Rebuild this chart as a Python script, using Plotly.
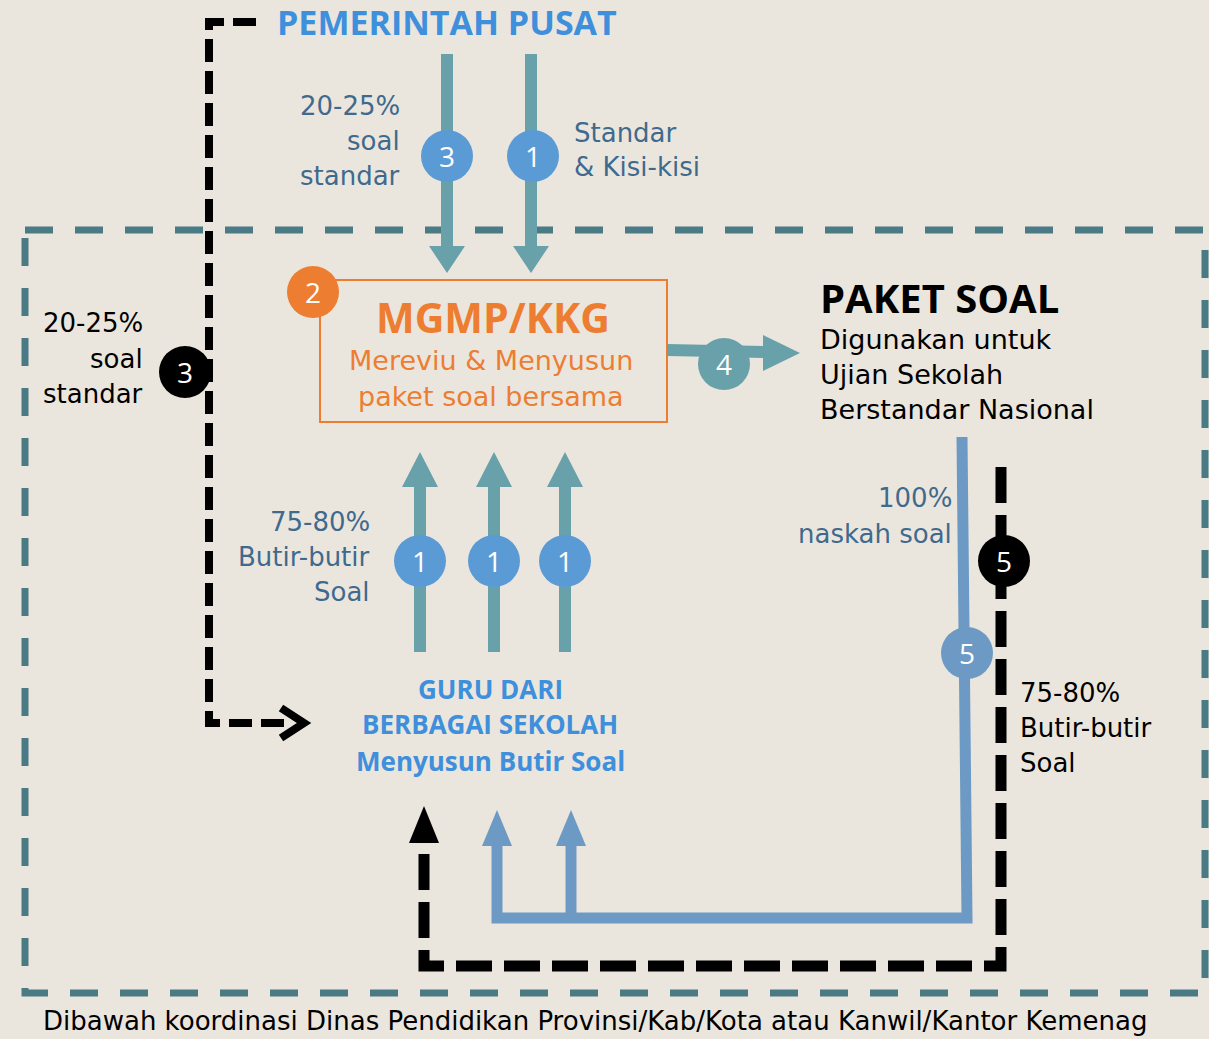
import plotly.graph_objects as go

# ---------------- content (text) ----------------
title_top = "PEMERINTAH PUSAT"
label_std_top = ["20-25%", "soal", "standar"]
label_kisi = ["Standar", "& Kisi-kisi"]
box_title = "MGMP/KKG"
box_lines = ["Mereviu & Menyusun", "paket soal bersama"]
paket_title = "PAKET SOAL"
paket_lines = ["Digunakan untuk", "Ujian Sekolah", "Berstandar Nasional"]
label_std_left = ["20-25%", "soal", "standar"]
label_butir_left = ["75-80%", "Butir-butir", "Soal"]
guru_lines = ["GURU DARI", "BERBAGAI SEKOLAH", "Menyusun Butir Soal"]
label_naskah = ["100%", "naskah soal"]
label_butir_right = ["75-80%", "Butir-butir", "Soal"]
step_top = ["3", "1"]
step_guru = ["1", "1", "1"]
footer = "Dibawah koordinasi Dinas Pendidikan Provinsi/Kab/Kota atau Kanwil/Kantor Kemenag"

# ---------------- styles ----------------
W, H = 1209, 1039
BG = "#EBE6DD"
TEAL_DASH = "#4A7B84"
TEAL = "#68A1A9"
BLUE_C = "#5B9BD5"
BLUE_T = "#3E8FDC"
SLATE = "#3F6A8D"
ORANGE = "#ED7D31"
PATHBLUE = "#6C9AC5"
FONT_B = "Open Sans"
FONT_R = "DejaVu Sans"

fig = go.Figure()
shapes = []
ann = []


def line(x0, y0, x1, y1, color, width, dash="solid"):
    shapes.append(dict(type="line", xref="x", yref="y", x0=x0, y0=y0, x1=x1, y1=y1,
                       line=dict(color=color, width=width, dash=dash)))


def path(d, color, width, dash="solid", fill=None):
    s = dict(type="path", xref="x", yref="y", path=d,
             line=dict(color=color, width=width, dash=dash))
    if fill:
        s["fillcolor"] = fill
    shapes.append(s)


def tri(tip, base, cx, half, color, vertical=True):
    if vertical:
        d = f"M {cx-half} {base} L {cx+half} {base} L {cx} {tip} Z"
    else:
        d = f"M {base} {cx-half} L {base} {cx+half} L {tip} {cx} Z"
    path(d, color, 0, fill=color)


def circle(cx, cy, r, color, text, size=28):
    shapes.append(dict(type="circle", xref="x", yref="y", x0=cx-r, y0=cy-r, x1=cx+r, y1=cy+r,
                       fillcolor=color, line=dict(width=0)))
    ann.append(dict(x=cx, y=cy, text=text, showarrow=False, xanchor="center", yanchor="middle",
                    font=dict(family=FONT_B, size=size, color="white")))


def text(x, y, t, color, size, anchor="left", bold=False):
    s = f"<b>{t}</b>" if bold else t
    ann.append(dict(x=x, y=y, text=s, showarrow=False, xanchor=anchor, yanchor="middle",
                    font=dict(family=FONT_B if bold else FONT_R, size=size, color=color)))


# outer teal dashed region
shapes.append(dict(type="rect", xref="x", yref="y", x0=25, y0=230, x1=1205, y1=993,
                   line=dict(color=TEAL_DASH, width=7, dash="28px,22px")))

# black dashed path top-left -> guru
path("M 256 22 L 209 22 L 209 723 L 284 723", "black", 8, dash="23px,9px")
path("M 281 708 L 304 723 L 281 738", "black", 8)

# arrows from pemerintah pusat
for cx in (447, 531):
    line(cx, 54, cx, 247, TEAL, 12)
    tri(273, 246, cx, 18, TEAL)

# orange box
shapes.append(dict(type="rect", xref="x", yref="y", x0=320, y0=280, x1=667, y1=422,
                   line=dict(color=ORANGE, width=2)))

# arrow 4
line(667, 350, 765, 352, TEAL, 12)
tri(800, 763, 353, 18, TEAL, vertical=False)

# guru arrows up
for cx in (420, 494, 565):
    line(cx, 652, cx, 485, TEAL, 12)
    tri(452, 487, cx, 18, TEAL)

# blue solid path (100% naskah soal)
path("M 962 437 L 967 918 L 497 918 L 497 844", PATHBLUE, 11)
line(571, 918, 571, 844, PATHBLUE, 11)
tri(810, 846, 497, 15, PATHBLUE)
tri(810, 846, 571, 15, PATHBLUE)

# black dashed path right -> bottom
path("M 1001 467 L 1001 966 L 424 966 L 424 842", "black", 11, dash="36px,12px")
tri(806, 843, 424, 15, "black")

# circles with numbers
for cx, t in zip((447, 533), step_top):
    circle(cx, 156, 26, BLUE_C, t)
circle(313, 292, 26, ORANGE, "2")
circle(724, 364, 26, TEAL, "4")
circle(185, 372, 26, "black", "3")
for cx, t in zip((420, 494, 565), step_guru):
    circle(cx, 561, 26, BLUE_C, t)
circle(967, 653, 26, PATHBLUE, "5")
circle(1004, 561, 26, "black", "5")

# texts
text(447, 22, title_top, BLUE_T, 34, anchor="center", bold=True)
for y, t in zip((106, 141, 176), label_std_top):
    text(402, y, t, SLATE, 26, anchor="right")
for y, t in zip((133, 167), label_kisi):
    text(572, y, t, SLATE, 26)
text(493, 317, box_title, ORANGE, 41, anchor="center", bold=True)
for y, t in zip((360, 396), box_lines):
    text(491, y, t, ORANGE, 27, anchor="center")
text(818, 297, paket_title, "black", 40, bold=True)
for y, t in zip((339, 374, 409), paket_lines):
    text(818, y, t, "black", 27)
for y, t in zip((323, 359, 394), label_std_left):
    text(145, y, t, "black", 26, anchor="right")
for y, t in zip((522, 557, 592), label_butir_left):
    text(372, y, t, SLATE, 26, anchor="right")
for y, t in zip((689, 724, 761), guru_lines):
    text(490, y, t, BLUE_T, 26, anchor="center", bold=True)
for y, t in zip((498, 534), label_naskah):
    text(954, y, t, SLATE, 26, anchor="right")
for y, t in zip((693, 728, 763), label_butir_right):
    text(1018, y, t, "black", 26)
text(41, 1021, footer, "black", 26)

fig.update_layout(
    width=W, height=H, margin=dict(l=0, r=0, t=0, b=0),
    paper_bgcolor=BG, plot_bgcolor=BG, showlegend=False,
    xaxis=dict(range=[0, W], visible=False, fixedrange=True),
    yaxis=dict(range=[H, 0], visible=False, fixedrange=True),
    shapes=shapes, annotations=ann,
)
fig.write_html("out.html", config={"displayModeBar": False},
               post_script="document.body.style.margin='0';document.body.style.overflow='hidden';")
